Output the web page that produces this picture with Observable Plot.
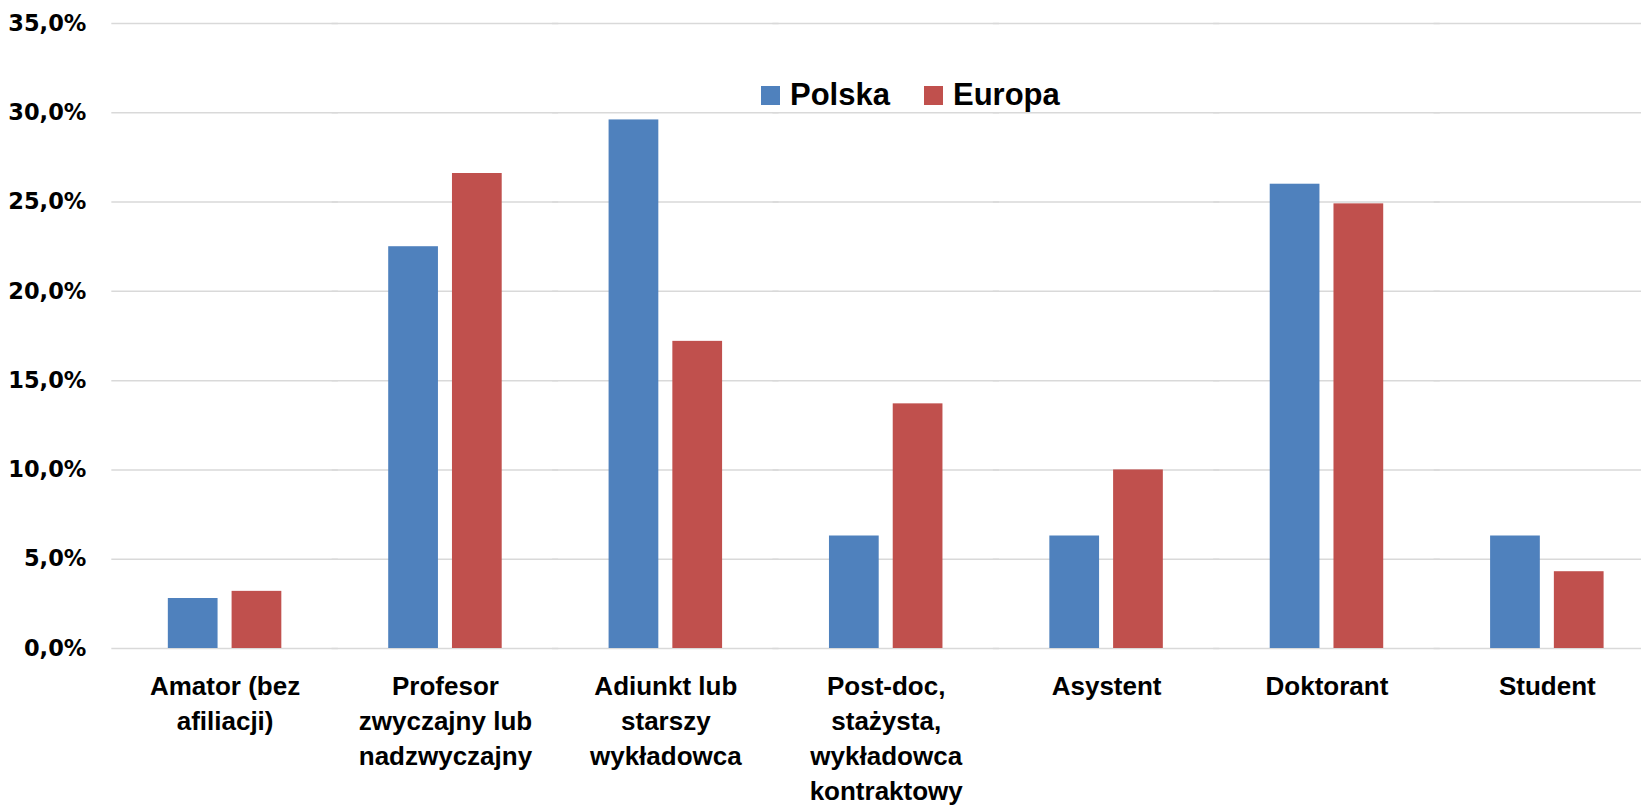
<!DOCTYPE html>
<html><head><meta charset="utf-8">
<script src="https://cdn.jsdelivr.net/npm/d3@7"></script>
<script src="https://cdn.jsdelivr.net/npm/@observablehq/plot@0.6"></script>
<style>
body{margin:0;background:#fff}
#wrap{position:relative;width:1641px;height:805px}
#legend{position:absolute;left:761px;top:76px;height:38px;display:flex;align-items:center;font-family:"Liberation Sans",Arial,sans-serif;font-weight:bold;font-size:31px;color:#000}
#legend .sw{width:19px;height:19px;margin-right:10px}
#legend .it{display:flex;align-items:center;margin-right:34px}
</style></head>
<body><div id="wrap"><div id="legend"></div></div>
<script>
const categories = ["Amator (bez\nafiliacji)", "Profesor\nzwyczajny lub\nnadzwyczajny", "Adiunkt lub\nstarszy\nwykładowca", "Post-doc,\nstażysta,\nwykładowca\nkontraktowy", "Asystent", "Doktorant", "Student"];
const series = ["Polska", "Europa"];
const polska = [2.8, 22.5, 29.6, 6.3, 6.3, 26.0, 6.3];
const europa = [3.2, 26.6, 17.2, 13.7, 10.0, 24.9, 4.3];
const colors = ["#4F81BD", "#C0504D"];
const yTicks = [0, 5, 10, 15, 20, 25, 30, 35];

const values = [polska, europa];
const data = [];
categories.forEach((c, i) => series.forEach((s, j) => data.push({category: c, series: s, value: values[j][i]})));

const fmt = d => d.toFixed(1).replace(".", ",") + "%";

const chart = Plot.plot({
  width: 1641, height: 805,
  marginLeft: 114, marginRight: 0, marginTop: 23, marginBottom: 157,
  fx: {domain: categories, paddingInner: 0.485, paddingOuter: 0.207, align: 0.59, round: false, label: null},
  x: {domain: series, paddingInner: 0.22, paddingOuter: 0, round: false, axis: null},
  y: {domain: [0, 35]},
  color: {domain: series, range: colors},
  marks: [
    Plot.ruleY(yTicks, {y: d => d, stroke: "#d9d9d9", strokeWidth: 1.5, insetLeft: -56.5, insetRight: -56.5}),
    Plot.barY(data, {fx: "category", x: "series", y: "value", fill: "series"}),
    Plot.axisY({ticks: yTicks, tickFormat: fmt, tickSize: 0, tickPadding: 82, label: null,
      fontFamily: "DejaVu Sans", fontSize: 22.5, fontWeight: "bold", fill: "#000"}),
    Plot.axisFx({anchor: "bottom", tickSize: 0, tickPadding: 22, label: null, fontFamily: "Liberation Sans", fontSize: 26,
      fontWeight: "bold", lineHeight: 1.34, fill: "#000"})
  ]
});
document.getElementById("wrap").appendChild(chart);

const legend = document.getElementById("legend");
series.forEach((s, j) => {
  const it = document.createElement("div");
  it.className = "it";
  const sw = document.createElement("div");
  sw.className = "sw";
  sw.style.background = colors[j];
  const t = document.createElement("span");
  t.textContent = s;
  it.appendChild(sw); it.appendChild(t);
  legend.appendChild(it);
});
</script>
</body></html>
